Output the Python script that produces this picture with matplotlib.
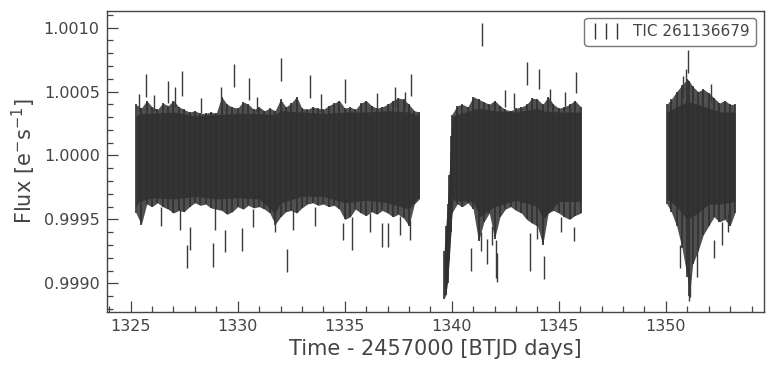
import numpy as np
import matplotlib
matplotlib.use("Agg")
import matplotlib.pyplot as plt
from matplotlib.ticker import MultipleLocator, FormatStrFormatter

# envelope of the light curve (time in BTJD, normalised flux)
seg1_t = [1325.25, 1325.50, 1325.75, 1326.00, 1326.25, 1326.50, 1326.75, 1327.00, 1327.25,
          1327.50, 1327.75, 1328.00, 1328.25, 1328.50, 1328.75, 1329.00, 1329.25, 1329.50,
          1329.75, 1330.00, 1330.25, 1330.50, 1330.75, 1331.00, 1331.25, 1331.50, 1331.75,
          1332.00, 1332.25, 1332.50, 1332.75, 1333.00, 1333.25, 1333.50, 1333.75, 1334.00,
          1334.25, 1334.50, 1334.75, 1335.00, 1335.25, 1335.50, 1335.75, 1336.00, 1336.25,
          1336.50, 1336.75, 1337.00, 1337.25, 1337.50, 1337.75, 1338.00, 1338.25, 1338.48]
seg1_hi = [1.00040, 1.00037, 1.00043, 1.00038, 1.00036, 1.00041, 1.00039, 1.00043, 1.00038,
           1.00036, 1.00034, 1.00035, 1.00033, 1.00033, 1.00034, 1.00033, 1.00046, 1.00040,
           1.00038, 1.00037, 1.00042, 1.00040, 1.00036, 1.00038, 1.00035, 1.00037, 1.00035,
           1.00044, 1.00038, 1.00041, 1.00046, 1.00037, 1.00036, 1.00038, 1.00037, 1.00036,
           1.00039, 1.00041, 1.00043, 1.00037, 1.00038, 1.00036, 1.00041, 1.00043, 1.00039,
           1.00037, 1.00038, 1.00040, 1.00043, 1.00045, 1.00044, 1.00040, 1.00035, 1.00034]
seg1_lo = [0.99955, 0.99946, 0.99962, 0.99960, 0.99963, 0.99960, 0.99958, 0.99955, 0.99957,
           0.99956, 0.99960, 0.99963, 0.99961, 0.99962, 0.99959, 0.99958, 0.99957, 0.99954,
           0.99956, 0.99960, 0.99958, 0.99961, 0.99959, 0.99960, 0.99958, 0.99955, 0.99946,
           0.99952, 0.99956, 0.99957, 0.99955, 0.99959, 0.99962, 0.99963, 0.99961, 0.99962,
           0.99960, 0.99961, 0.99958, 0.99950, 0.99952, 0.99958, 0.99955, 0.99953, 0.99956,
           0.99954, 0.99957, 0.99955, 0.99952, 0.99954, 0.99951, 0.99945, 0.99962, 0.99966]
seg1_core_t = [1325.25, 1325.40, 1326.0, 1327.0, 1328.0, 1329.0, 1330.0, 1331.0, 1331.75,
               1332.0, 1333.0, 1334.0, 1335.0, 1336.0, 1337.0, 1338.0, 1338.48]
seg1_core_hi = [1.00031, 1.00033, 1.00033, 1.00034, 1.00031, 1.00032, 1.00033, 1.00033, 1.00032,
                1.00035, 1.00034, 1.00033, 1.00034, 1.00034, 1.00035, 1.00034, 1.00031]
seg1_core_lo = [0.99960, 0.99964, 0.99967, 0.99966, 0.99968, 0.99966, 0.99967, 0.99966, 0.99955,
                0.99963, 0.99968, 0.99968, 0.99963, 0.99965, 0.99963, 0.99958, 0.99968]

seg2_t = [1339.64, 1339.72, 1339.80, 1339.88, 1339.96, 1340.00, 1340.25, 1340.50, 1340.75,
          1341.00, 1341.25, 1341.50, 1341.75, 1342.00, 1342.25, 1342.50, 1342.75, 1343.00,
          1343.25, 1343.50, 1343.75, 1344.00, 1344.25, 1344.50, 1344.75, 1345.00, 1345.25,
          1345.50, 1345.75, 1346.03]
seg2_hi = [0.99925, 0.99945, 0.99962, 0.99985, 1.00015, 1.00032, 1.00039, 1.00040, 1.00038,
           1.00046, 1.00044, 1.00042, 1.00040, 1.00043, 1.00039, 1.00036, 1.00035, 1.00037,
           1.00038, 1.00040, 1.00045, 1.00044, 1.00040, 1.00046, 1.00040, 1.00037, 1.00038,
           1.00040, 1.00043, 1.00038]
seg2_lo = [0.99888, 0.99891, 0.99900, 0.99918, 0.99940, 0.99955, 0.99962, 0.99960, 0.99963,
           0.99958, 0.99933, 0.99948, 0.99955, 0.99935, 0.99952, 0.99958, 0.99960, 0.99957,
           0.99955, 0.99950, 0.99947, 0.99945, 0.99930, 0.99955, 0.99957, 0.99955, 0.99952,
           0.99950, 0.99953, 0.99955]
seg2_core_t = [1339.64, 1339.80, 1339.96, 1340.05, 1341.0, 1341.3, 1342.0, 1343.0, 1344.0,
               1344.25, 1345.0, 1346.03]
seg2_core_hi = [0.99920, 0.99958, 1.00012, 1.00031, 1.00036, 1.00037, 1.00035, 1.00034, 1.00037,
                1.00035, 1.00034, 1.00034]
seg2_core_lo = [0.99890, 0.99902, 0.99942, 0.99965, 0.99964, 0.99952, 0.99960, 0.99965, 0.99960,
                0.99950, 0.99964, 0.99964]

seg3_t = [1350.05, 1350.25, 1350.50, 1350.75, 1351.00, 1351.10, 1351.25, 1351.50, 1351.75,
          1352.00, 1352.25, 1352.50, 1352.75, 1353.00, 1353.22]
seg3_hi = [1.00040, 1.00044, 1.00050, 1.00055, 1.00060, 1.00058, 1.00054, 1.00050, 1.00052,
           1.00049, 1.00045, 1.00041, 1.00043, 1.00040, 1.00040]
seg3_lo = [0.99962, 0.99956, 0.99945, 0.99928, 0.99905, 0.99890, 0.99915, 0.99925, 0.99938,
           0.99945, 0.99952, 0.99948, 0.99950, 0.99945, 0.99955]
seg3_core_t = [1350.05, 1350.5, 1351.0, 1351.5, 1352.0, 1352.6, 1353.22]
seg3_core_hi = [1.00034, 1.00038, 1.00042, 1.00040, 1.00037, 1.00034, 1.00034]
seg3_core_lo = [0.99966, 0.99960, 0.99950, 0.99955, 0.99962, 0.99962, 0.99964]

# isolated long error bars sticking out of the band
spike_t = [1325.73, 1326.76, 1327.41, 1327.09, 1329.81, 1330.53, 1332.04, 1333.39, 1335.00,
           1338.11, 1337.35, 1329.23,
           1327.65, 1327.77, 1328.86, 1329.42, 1330.22, 1332.32, 1328.95, 1335.33, 1336.73,
           1337.04, 1334.94, 1338.05, 1332.60, 1331.73,
           1341.40, 1343.53, 1344.09, 1345.81, 1342.49,
           1340.90, 1341.64, 1341.38, 1342.10, 1342.05, 1343.63, 1343.97, 1344.30, 1345.70,
           1351.05, 1350.95, 1350.67, 1351.06, 1351.14, 1351.44, 1352.23, 1352.90,
           1325.40, 1326.10, 1328.30, 1330.90, 1333.90, 1336.50, 1337.80, 1342.90, 1344.60,
           1345.30, 1350.80, 1352.10,
           1326.40, 1327.30, 1330.70, 1333.60, 1336.20, 1337.60, 1341.90, 1345.10, 1352.60]
spike_lo = [1.000457, 1.000411, 1.000466, 1.000382, 1.000536, 1.000434, 1.000583, 1.000450, 1.000411,
            1.000466, 1.000380, 1.000380,
            0.999120, 0.999261, 0.999128, 0.999246, 0.999253, 0.999089, 0.999418, 0.999261, 0.999285,
            0.999285, 0.999335, 0.999338, 0.999420, 0.999400,
            1.000857, 1.000552, 1.000520, 1.000487, 1.000382,
            0.999100, 0.999150, 0.999250, 0.999010, 0.999040, 0.999100, 0.999350, 0.999030, 0.999330,
            1.000646, 1.000500, 0.999120, 0.998860, 0.998890, 0.999050, 0.999200, 0.999400,
            1.00035, 1.00035, 1.00033, 1.00034, 1.00034, 1.00035, 1.00036, 1.00036, 1.00038,
            1.00036, 1.00045, 1.00042,
            0.99945, 0.99942, 0.99944, 0.99945, 0.99940, 0.99938, 0.99930, 0.99940, 0.99930]
spike_hi = [1.000638, 1.000585, 1.000661, 1.000539, 1.000716, 1.000607, 1.000763, 1.000630, 1.000599,
            1.000638, 1.000536, 1.000536,
            0.999300, 0.999444, 0.999316, 0.999418, 0.999433, 0.999269, 0.999598, 0.999520, 0.999472,
            0.999472, 0.999472, 0.999495, 0.999570, 0.999520,
            1.001040, 1.000734, 1.000680, 1.000656, 1.000513,
            0.999280, 0.999350, 0.999400, 0.999240, 0.999340, 0.999390, 0.999500, 0.999210, 0.999440,
            1.000826, 1.000680, 0.999300, 0.999040, 0.999070, 0.999300, 0.999340, 0.999550,
            1.00048, 1.00047, 1.00045, 1.00046, 1.00048, 1.00049, 1.00050, 1.00049, 1.00052,
            1.00050, 1.00062, 1.00056,
            0.99960, 0.99958, 0.99958, 0.99960, 0.99955, 0.99953, 0.99945, 0.99952, 0.99948]

label = "TIC 261136679"

plt.rcParams["font.family"] = "DejaVu Sans"
fig = plt.figure(figsize=(7.73, 3.68), dpi=100)
ax = fig.add_axes([0.138, 0.153, 0.850, 0.818])

segments = [(seg1_t, seg1_lo, seg1_hi, seg1_core_t, seg1_core_lo, seg1_core_hi),
            (seg2_t, seg2_lo, seg2_hi, seg2_core_t, seg2_core_lo, seg2_core_hi),
            (seg3_t, seg3_lo, seg3_hi, seg3_core_t, seg3_core_lo, seg3_core_hi)]
for t, lo, hi, ct, clo, chi in segments:
    ax.fill_between(t, lo, hi, color="#505050", lw=0)
    ax.vlines(t, lo, hi, color="#303030", lw=1.2)
    ax.fill_between(ct, clo, chi, color="#333333", lw=0)

ax.vlines(spike_t, spike_lo, spike_hi, color="#3a3a3a", lw=1.0)

# empty errorbar, only for the legend handle
ax.errorbar([], [], yerr=[], fmt="none", ecolor="#333333", elinewidth=1.0, label=label)

ax.set_xlim(1323.88, 1354.57)
ax.set_ylim(0.998778, 1.001133)
ax.xaxis.set_major_locator(MultipleLocator(5))
ax.xaxis.set_minor_locator(MultipleLocator(1))
ax.yaxis.set_major_locator(MultipleLocator(0.0005))
ax.yaxis.set_minor_locator(MultipleLocator(0.0001))
ax.yaxis.set_major_formatter(FormatStrFormatter("%.4f"))

ax.tick_params(which="both", direction="in", colors="#444444", labelcolor="#444444", width=0.9)
ax.tick_params(which="major", length=8, labelsize=11.5, pad=5)
ax.tick_params(which="minor", length=4)
for s in ax.spines.values():
    s.set_color("#444444")
    s.set_linewidth(1.0)

ax.set_xlabel("Time - 2457000 [BTJD days]", fontsize=15, color="#444444")
ax.set_ylabel(r"Flux [$\mathrm{e^{-}s^{-1}}$]", fontsize=15, color="#444444")

leg = ax.legend(loc="upper right", numpoints=3, fontsize=11, frameon=True, fancybox=True,
                handlelength=2.0, borderpad=0.4)
leg.get_frame().set_edgecolor("#555555")
leg.get_frame().set_linewidth(1.0)
for txt in leg.get_texts():
    txt.set_color("#444444")

fig.savefig("out.png", dpi=100)
